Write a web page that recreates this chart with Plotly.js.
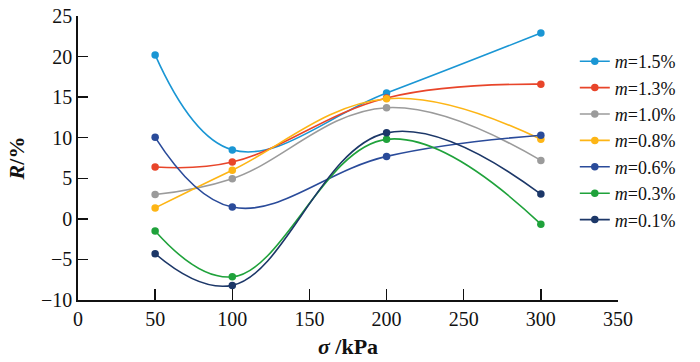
<!DOCTYPE html>
<html>
<head>
<meta charset="utf-8">
<script src="https://cdn.plot.ly/plotly-3.0.1.min.js"></script>
<style>html,body{margin:0;padding:0;background:#fff;}#chart{width:700px;height:362px;}</style>
</head>
<body>
<div id="chart"></div>
<script>
const sigma = [50, 100, 200, 300];
const seriesNames = ["<i>m</i>=1.5%", "<i>m</i>=1.3%", "<i>m</i>=1.0%", "<i>m</i>=0.8%", "<i>m</i>=0.6%", "<i>m</i>=0.3%", "<i>m</i>=0.1%"];
const m15 = [20.2, 8.5, 15.5, 22.9];
const m13 = [6.4, 7.0, 14.9, 16.6];
const m10 = [3.0, 4.95, 13.7, 7.2];
const m08 = [1.35, 6.0, 14.8, 9.8];
const m06 = [10.05, 1.45, 7.7, 10.3];
const m03 = [-1.5, -7.15, 9.8, -0.65];
const m01 = [-4.3, -8.2, 10.6, 3.05];
const seriesValues = [m15, m13, m10, m08, m06, m03, m01];
const colors = ["#1a96d4", "#e8452a", "#9b9b9b", "#fdb515", "#2a4b9a", "#1fa23b", "#1c3768"];

const traces = seriesValues.map((vals, i) => ({
  x: sigma,
  y: vals,
  name: seriesNames[i],
  type: "scatter",
  mode: "lines+markers",
  line: {color: colors[i], width: 1.6, shape: "spline", smoothing: 1.15},
  marker: {color: colors[i], size: 7.5}
}));

const serif = "'Liberation Serif', 'Times New Roman', serif";
const layout = {
  width: 700, height: 362,
  margin: {l: 78, r: 82, t: 16, b: 62},
  paper_bgcolor: "#fff", plot_bgcolor: "#fff",
  showlegend: true,
  font: {family: serif, color: "#111", size: 19},
  xaxis: {
    range: [0, 350], tickvals: [0, 50, 100, 150, 200, 250, 300, 350],
    ticks: "inside", ticklen: 11, tickwidth: 1.5, tickcolor: "#111",
    showline: true, linecolor: "#111", linewidth: 1.8,
    showgrid: false, zeroline: false,
    tickfont: {family: serif, size: 20, color: "#111"},
    title: {text: "<b><i>σ</i> /kPa</b>", font: {family: serif, size: 22, color: "#111"}, standoff: 10}
  },
  yaxis: {
    range: [-10, 25], tickvals: [-10, -5, 0, 5, 10, 15, 20, 25],
    ticks: "inside", ticklen: 10, tickwidth: 1.5, tickcolor: "#111",
    showline: true, linecolor: "#111", linewidth: 1.8,
    showgrid: false, zeroline: false,
    tickfont: {family: serif, size: 20, color: "#111"},
    title: {text: "<b><i>R</i>/%</b>", font: {family: serif, size: 22, color: "#111"}, standoff: 10}
  },
  legend: {
    x: 0.92, xanchor: "left", y: 0.905, yanchor: "top",
    font: {family: serif, size: 18, color: "#111"},
    itemwidth: 30, bgcolor: "rgba(0,0,0,0)", tracegroupgap: 0
  }
};
Plotly.newPlot("chart", traces, layout, {displayModeBar: false, staticPlot: true});
</script>
</body>
</html>
